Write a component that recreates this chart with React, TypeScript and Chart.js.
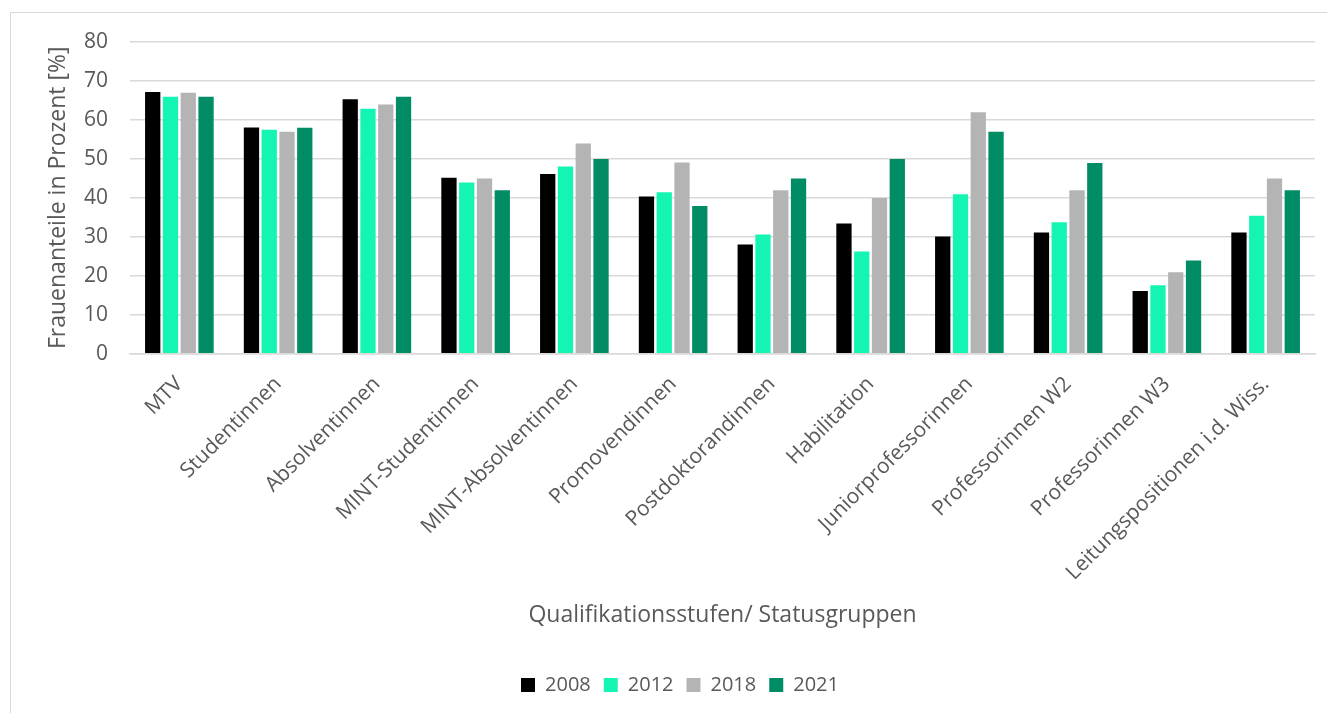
import React, { useEffect, useRef } from "react";
import { Chart, registerables } from "chart.js";

Chart.register(...registerables);

const categories = [
  "MTV",
  "Studentinnen",
  "Absolventinnen",
  "MINT-Studentinnen",
  "MINT-Absolventinnen",
  "Promovendinnen",
  "Postdoktorandinnen",
  "Habilitation",
  "Juniorprofessorinnen",
  "Professorinnen W2",
  "Professorinnen W3",
  "Leitungspositionen i.d. Wiss.",
];

const series2008 = [67.1, 58.0, 65.2, 45.1, 46.1, 40.3, 28.0, 33.4, 30.1, 31.1, 16.1, 31.1];
const series2012 = [65.9, 57.4, 62.8, 43.9, 48.0, 41.4, 30.6, 26.2, 40.9, 33.7, 17.6, 35.4];
const series2018 = [66.9, 56.9, 63.9, 44.9, 53.9, 49.0, 41.9, 39.9, 61.9, 41.9, 20.9, 44.9];
const series2021 = [65.9, 57.9, 65.9, 41.9, 49.9, 37.9, 44.9, 49.9, 56.9, 48.9, 23.9, 41.9];

const seriesLabels = ["2008", "2012", "2018", "2021"];
const seriesColors = ["#000000", "#14F5B4", "#B4B4B4", "#008C64"];
const yTicks = [0, 10, 20, 30, 40, 50, 60, 70, 80];

const FONT = "'Open Sans', 'Noto Sans', sans-serif";
const TEXT = "#595959";

export default function App() {
  const ref = useRef<HTMLCanvasElement | null>(null);

  useEffect(() => {
    document.body.style.margin = "0";
    const values = [series2008, series2012, series2018, series2021];
    const chart = new Chart(ref.current as HTMLCanvasElement, {
      type: "bar",
      data: {
        labels: categories,
        datasets: values.map((v, i) => ({
          label: seriesLabels[i],
          data: v,
          backgroundColor: seriesColors[i],
          borderWidth: 0,
          categoryPercentage: 0.72,
          barPercentage: 0.86,
        })),
      },
      options: {
        animation: false,
        responsive: false,
        maintainAspectRatio: false,
        layout: { padding: { left: 34, right: 6, top: 0, bottom: 6 } },
        plugins: {
          tooltip: { enabled: false },
          legend: {
            position: "bottom",
            labels: {
              color: TEXT,
              font: { family: FONT, size: 20 },
              boxWidth: 14,
              boxHeight: 14,
              padding: 13,
            },
          },
        },
        scales: {
          x: {
            grid: { display: false },
            border: { color: "#D9D9D9", width: 1.5 },
            ticks: {
              color: TEXT,
              font: { family: FONT, size: 21 },
              minRotation: 45,
              maxRotation: 45,
              autoSkip: false,
              padding: 10,
            },
            title: {
              display: true,
              text: "Qualifikationsstufen/ Statusgruppen",
              color: TEXT,
              font: { family: FONT, size: 23 },
              padding: { top: 6, bottom: 33 },
            },
          },
          y: {
            min: 0,
            max: 80,
            afterBuildTicks: (axis: any) => {
              axis.ticks = yTicks.map((v) => ({ value: v }));
            },
            afterFit: (axis: any) => {
              axis.width = 85;
            },
            grid: { color: "#D9D9D9", lineWidth: 1.5, drawTicks: false },
            border: { display: false },
            ticks: {
              color: TEXT,
              font: { family: FONT, size: 21 },
              padding: 22,
            },
            title: {
              display: true,
              text: "Frauenanteile in Prozent [%]",
              color: TEXT,
              font: { family: FONT, size: 23 },
              padding: { top: 0, bottom: 0 },
            },
          },
        },
      },
    });
    return () => chart.destroy();
  }, []);

  return (
    <div style={{ position: "relative", width: 1327, height: 713, background: "#fff", overflow: "hidden" }}>
      <div
        style={{
          position: "absolute",
          left: 10,
          top: 12,
          width: 1330,
          height: 720,
          border: "1px solid #D9D9D9",
        }}
      />
      <canvas
        ref={ref}
        width={1310}
        height={704}
        style={{ position: "absolute", left: 11, top: 7, width: 1310, height: 704 }}
      />
    </div>
  );
}
